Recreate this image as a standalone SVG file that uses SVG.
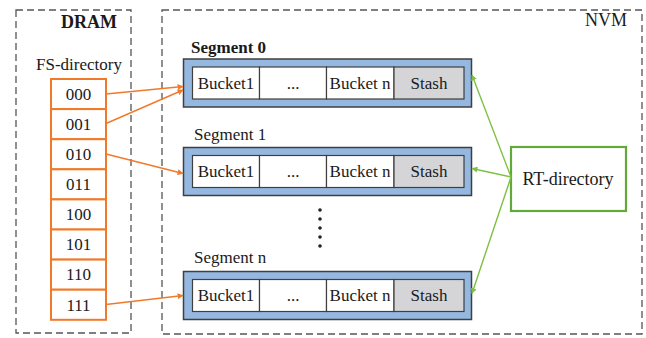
<svg xmlns="http://www.w3.org/2000/svg" width="646" height="338" viewBox="0 0 646 338">
<style>
text{font-family:"Liberation Serif","Times New Roman",serif;font-size:17px;fill:#1a1a1a}
.region{fill:none;stroke:#555;stroke-width:1.3;stroke-dasharray:7 4}
.cell{fill:#fff;stroke:#F07A2A;stroke-width:2}
.seg{fill:#95B8E0;stroke:#3f3f3f;stroke-width:1.5}
.bk{fill:#fff;stroke:#3f3f3f;stroke-width:1.2}
.st{fill:#D5D5D8;stroke:#3f3f3f;stroke-width:1.2}
.or{stroke:#F07A2A;stroke-width:1.4;fill:none;marker-end:url(#ao)}
.gr{stroke:#7DC043;stroke-width:1.4;fill:none;marker-end:url(#ag)}
.c{text-anchor:middle}
</style>
<defs>
<marker id="ao" viewBox="0 0 10 10" refX="9" refY="5" markerWidth="6" markerHeight="6" orient="auto" markerUnits="userSpaceOnUse"><path d="M0,0 L10,5 L0,10 Z" fill="#F07A2A"/></marker>
<marker id="ag" viewBox="0 0 10 10" refX="9" refY="5" markerWidth="6" markerHeight="6" orient="auto" markerUnits="userSpaceOnUse"><path d="M0,0 L10,5 L0,10 Z" fill="#7DC043"/></marker>
</defs>

<g id="dram">
<rect class="region" x="16" y="10" width="115" height="323"/>
<text x="117" y="28" text-anchor="end" style="font-weight:bold;font-size:18px">DRAM</text>
</g>
<g id="nvm">
<rect class="region" x="162" y="10" width="480" height="324"/>
<text x="627" y="26" text-anchor="end" style="font-size:18px">NVM</text>
</g>

<g id="fs-directory">
<text x="79" y="70" class="c">FS-directory</text>
<rect class="cell" x="51" y="79" width="55" height="30.1"/>
<rect class="cell" x="51" y="109.1" width="55" height="30.1"/>
<rect class="cell" x="51" y="139.2" width="55" height="30.1"/>
<rect class="cell" x="51" y="169.3" width="55" height="30.1"/>
<rect class="cell" x="51" y="199.4" width="55" height="30.1"/>
<rect class="cell" x="51" y="229.5" width="55" height="30.1"/>
<rect class="cell" x="51" y="259.6" width="55" height="30.1"/>
<rect class="cell" x="51" y="289.7" width="55" height="30.1"/>
<text x="78.5" y="100" class="c">000</text>
<text x="78.5" y="130" class="c">001</text>
<text x="78.5" y="160" class="c">010</text>
<text x="78.5" y="190" class="c">011</text>
<text x="78.5" y="220" class="c">100</text>
<text x="78.5" y="250" class="c">101</text>
<text x="78.5" y="280" class="c">110</text>
<text x="78.5" y="310.5" class="c">111</text>
</g>

<g id="segment0">
<text x="191" y="53" style="font-weight:bold">Segment 0</text>
<rect class="seg" x="183.5" y="59" width="288" height="48"/>
<rect class="bk" x="192.5" y="67" width="67" height="32"/>
<rect class="bk" x="259.5" y="67" width="67" height="32"/>
<rect class="bk" x="326.5" y="67" width="67.5" height="32"/>
<rect class="st" x="394" y="67" width="70" height="32"/>
<text x="226" y="89" class="c">Bucket1</text>
<text x="293" y="89" class="c">...</text>
<text x="360" y="89" class="c">Bucket n</text>
<text x="429" y="89" class="c">Stash</text>
</g>

<g id="segment1">
<text x="194" y="140">Segment 1</text>
<rect class="seg" x="183.5" y="147.5" width="288" height="48"/>
<rect class="bk" x="192.5" y="155.5" width="67" height="32"/>
<rect class="bk" x="259.5" y="155.5" width="67" height="32"/>
<rect class="bk" x="326.5" y="155.5" width="67.5" height="32"/>
<rect class="st" x="394" y="155.5" width="70" height="32"/>
<text x="226" y="177" class="c">Bucket1</text>
<text x="293" y="177" class="c">...</text>
<text x="360" y="177" class="c">Bucket n</text>
<text x="429" y="177" class="c">Stash</text>
</g>

<g id="ellipsis">
<circle cx="320" cy="210" r="1.8" fill="#222"/>
<circle cx="320" cy="219" r="1.8" fill="#222"/>
<circle cx="320" cy="228" r="1.8" fill="#222"/>
<circle cx="320" cy="237" r="1.8" fill="#222"/>
<circle cx="320" cy="246" r="1.8" fill="#222"/>
</g>

<g id="segmentn">
<text x="194" y="263">Segment n</text>
<rect class="seg" x="183.5" y="271.5" width="288" height="48"/>
<rect class="bk" x="192.5" y="279.5" width="67" height="32"/>
<rect class="bk" x="259.5" y="279.5" width="67" height="32"/>
<rect class="bk" x="326.5" y="279.5" width="67.5" height="32"/>
<rect class="st" x="394" y="279.5" width="70" height="32"/>
<text x="226" y="301" class="c">Bucket1</text>
<text x="293" y="301" class="c">...</text>
<text x="360" y="301" class="c">Bucket n</text>
<text x="429" y="301" class="c">Stash</text>
</g>

<g id="rt-directory">
<rect x="511" y="147" width="115" height="64" fill="#fff" stroke="#63A83A" stroke-width="2.2"/>
<text x="568" y="185" class="c" style="font-size:18px">RT-directory</text>
</g>

<g id="connectors">
<path class="or" d="M106,94 L183,86.5"/>
<path class="or" d="M106,123.5 L183,90"/>
<path class="or" d="M106,154 L183,173.5"/>
<path class="or" d="M106,304.5 L183,295.5"/>
<path class="gr" d="M511,177 L472,75"/>
<path class="gr" d="M511,177 L472,168.5"/>
<path class="gr" d="M511,177 L472,293.5"/>
</g>
</svg>
